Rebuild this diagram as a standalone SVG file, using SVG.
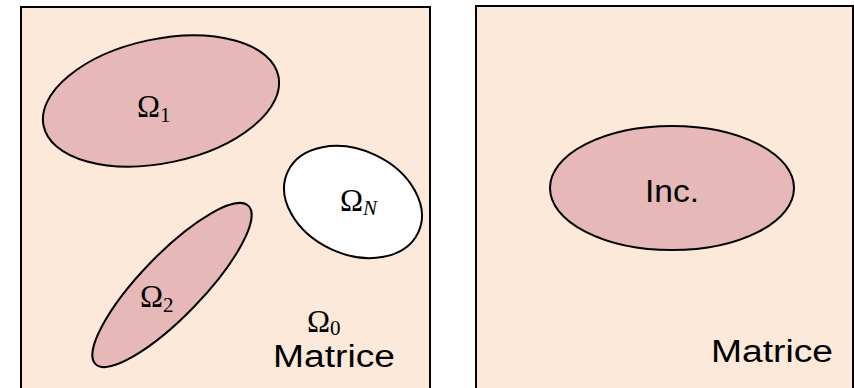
<svg xmlns="http://www.w3.org/2000/svg" width="854" height="388" viewBox="0 0 854 388">
<style>
.box{fill:#FDE9D9;stroke:#000;stroke-width:2}
.inc{fill:#E6B9B8;stroke:#000;stroke-width:2}
.void{fill:#fff;stroke:#000;stroke-width:2}
.m{font-family:"Liberation Serif","DejaVu Serif",serif;fill:#000}
.s{font-family:"Liberation Sans",Arial,sans-serif;fill:#000}
</style>
<rect width="854" height="388" fill="#fff"/>
<g id="left">
<rect class="box" x="21" y="7" width="409" height="390"/>
</g>
<g id="omega1">
<ellipse class="inc" cx="161" cy="101" rx="120" ry="62" transform="rotate(-12 161 101)"/>
<text class="m" x="137" y="117" font-size="31">Ω<tspan font-size="21" dy="5">1</tspan></text>
</g>
<g id="omegaN">
<ellipse class="void" cx="353" cy="202" rx="72" ry="52" transform="rotate(25 353 202)"/>
<text class="m" x="340" y="211" font-size="31">Ω<tspan font-size="21" dy="4" font-style="italic">N</tspan></text>
</g>
<g id="omega2">
<ellipse class="inc" cx="172" cy="285" rx="110" ry="31" transform="rotate(-46 172 285)"/>
<text class="m" x="140" y="307" font-size="31">Ω<tspan font-size="21" dy="5">2</tspan></text>
</g>
<g id="omega0">
<text class="m" x="307" y="332" font-size="31">Ω<tspan font-size="21" dy="3">0</tspan></text>
<text class="s" x="273" y="367" font-size="31" textLength="122" lengthAdjust="spacingAndGlyphs">Matrice</text>
</g>
<g id="right">
<rect class="box" x="476" y="6" width="377" height="390"/>
</g>
<g id="inclusion">
<ellipse class="inc" cx="672" cy="188" rx="122" ry="62"/>
<text class="s" x="645" y="202" font-size="31" textLength="54" lengthAdjust="spacingAndGlyphs">Inc.</text>
</g>
<g id="matrice-right">
<text class="s" x="711" y="362" font-size="31" textLength="122" lengthAdjust="spacingAndGlyphs">Matrice</text>
</g>
<g id="connectors"/>
</svg>
